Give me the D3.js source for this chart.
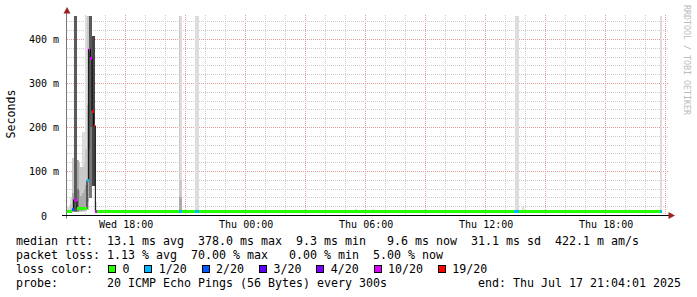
<!DOCTYPE html>
<html>
<head>
<meta charset="utf-8">
<script src="https://cdn.jsdelivr.net/npm/d3@7"></script>
<style>
html, body { margin: 0; padding: 0; background: #fff; }
svg { display: block; }
text { font-family: "DejaVu Sans Mono", monospace; white-space: pre; }
</style>
</head>
<body>
<div id="chart"></div>
<script>
// graph covers 30 hours of 5 minute steps ending here
var graphEnd = new Date(2025, 6, 17, 21, 4, 1);
var stepMinutes = 5;

// the rough start, one entry per step: step, median (ms), lost pings of 20
var burstSteps  = [0, 1, 2, 3, 4, 5, 6, 7, 8, 9, 10, 11, 12, 13, 14, 15, 16, 17];
var burstMedian = [9, 9, 10, 13, 36, 33, 16, 16, 15, 15, 15, 15, 80, 378, 357, 237, 204, 9];
var burstLoss   = [0, 0, 0, 2, 10, 10, 0, 0, 0, 0, 0, 0, 1, 10, 10, 19, 19, 10];

// the quiet rest: [first step, last step, median ms, lost pings]
var flatRuns = [
  [18, 66, 9.4, 0],
  [67, 68, 9.6, 1],
  [69, 76, 9.4, 0],
  [77, 78, 9.6, 1],
  [79, 267, 9.4, 0],
  [268, 270, 9.6, 1],
  [271, 355, 9.4, 0],
  [356, 356, 9.6, 1]
];

// smoke: [step, low ms, high ms, shade] (shade 0 = outermost pings)
var smoke = [
  [0, 6, 20, 0], [1, 6, 24, 0], [2, 7, 40, 0], [2, 8, 25, 1],
  [3, 8, 130, 1], [3, 9, 50, 2],
  [4, 8, 132, 3], [4, 10, 455, 4], [5, 8, 132, 3], [5, 10, 455, 4],
  [6, 9, 125, 2], [6, 11, 60, 3], [7, 9, 120, 1], [7, 11, 55, 2],
  [8, 9, 110, 1], [8, 11, 45, 2],
  [9, 9, 190, 0], [9, 10, 110, 1], [9, 11, 50, 2],
  [10, 9, 190, 0], [10, 10, 120, 1], [10, 12, 60, 2],
  [11, 9, 455, 0], [11, 10, 150, 1], [11, 12, 70, 2],
  [12, 12, 455, 1], [12, 30, 250, 2],
  [13, 40, 455, 3], [13, 150, 455, 4], [14, 40, 455, 3], [14, 200, 455, 4],
  [15, 68, 409, 5], [16, 68, 409, 5], [17, 8, 30, 0],
  [67, 9, 455, 1], [67, 9, 41, 2],
  [68, 9, 455, 0], [68, 9, 80, 1], [68, 9, 41, 2],
  [77, 9, 455, 0], [78, 9, 455, 0],
  [173, 9, 15, 0], [183, 9, 15, 0],
  [269, 9, 455, 0], [270, 9, 455, 0], [273, 9, 19, 0],
  [301, 9, 14, 0], [337, 9, 14, 0],
  [356, 9, 455, 0]
];
var smokeShades = ["#dddddd", "#c9c9c9", "#aaaaaa", "#7a7a7a", "#5a5a5a", "#454545"];

var lossLabels = ["0", "1/20", "2/20", "3/20", "4/20", "10/20", "19/20"];
var lossSteps  = [1, 2, 3, 4, 10, 19];
var lossColors = ["#26ff00", "#00b8ff", "#0059ff", "#5e00ff", "#7e00ff", "#dd00ff", "#ff0000"];

var yTicks = [0, 0.1, 0.2, 0.3, 0.4];
var yMax = 0.4545;

var legendLines = [
  "median rtt:  13.1 ms avg  378.0 ms max  9.3 ms min   9.6 ms now  31.1 ms sd  422.1 m am/s",
  "packet loss: 1.13 % avg  70.00 % max   0.00 % min  5.00 % now",
  "loss color:",
  "probe:       20 ICMP Echo Pings (56 Bytes) every 300s"
];
var endLabel = "end: Thu Jul 17 21:04:01 2025";

var W = 697, H = 297,
    plotLeft = 67, plotRight = 667, plotTop = 15.5, plotBottom = 215.5;

var svg = d3.select("#chart").append("svg")
    .attr("width", W)
    .attr("height", H);

svg.append("rect").attr("width", W).attr("height", H).attr("fill", "#fff");

var graphStart = d3.timeHour.offset(graphEnd, -30);

var x = d3.scaleTime().domain([graphStart, graphEnd]).range([plotLeft, plotRight]),
    y = d3.scaleLinear().domain([0, yMax]).range([plotBottom, plotTop]).clamp(true),
    lossColor = d3.scaleThreshold().domain(lossSteps).range(lossColors);

function sx(k) { return x(d3.timeMinute.offset(graphStart, k * stepMinutes)); }

// grid
var grid = svg.append("g").attr("shape-rendering", "crispEdges").attr("stroke-dasharray", "1,1");

var hours = d3.timeHour.range(d3.timeHour.ceil(graphStart), graphEnd);
grid.selectAll(".vx").data(hours)
  .enter().append("line")
    .attr("x1", function(d) { return Math.floor(x(d)) + 0.5; })
    .attr("x2", function(d) { return Math.floor(x(d)) + 0.5; })
    .attr("y1", plotTop - 0.5).attr("y2", plotBottom)
    .attr("stroke", function(d) { return d.getHours() % 3 === 0 ? "#e39a9a" : "#cccccc"; });

var yGrid = d3.range(0, yMax, 0.02);
grid.selectAll(".hy").data(yGrid)
  .enter().append("line")
    .attr("x1", plotLeft).attr("x2", plotRight + 1)
    .attr("y1", function(d) { return y(d); })
    .attr("y2", function(d) { return y(d); })
    .attr("stroke", function(d) { return Math.round(d * 100) % 10 === 0 ? "#e39a9a" : "#cccccc"; });

// smoke
svg.append("g").attr("shape-rendering", "crispEdges")
  .selectAll("rect").data(smoke)
  .enter().append("rect")
    .attr("x", function(d) { return sx(d[0]); })
    .attr("width", function(d) { return sx(d[0] + 1) - sx(d[0]); })
    .attr("y", function(d) { return y(d[2] / 1000); })
    .attr("height", function(d) { return y(d[1] / 1000) - y(d[2] / 1000); })
    .attr("fill", function(d) { return smokeShades[d[3]]; });

// median per step
var steps = [];
burstSteps.forEach(function(k, i) { steps.push({k: k, ms: burstMedian[i], loss: burstLoss[i]}); });
flatRuns.forEach(function(r) {
  for (var k = r[0]; k <= r[1]; k++) steps.push({k: k, ms: r[2], loss: r[3]});
});

var pts = steps.map(function(d) { return [sx(d.k), y(d.ms / 1000)]; });
var last = steps[steps.length - 1];
pts.push([sx(last.k + 1), y(last.ms / 1000)]);

svg.append("path")
    .attr("d", d3.line().curve(d3.curveStepAfter)(pts))
    .attr("fill", "none")
    .attr("stroke", "#000")
    .attr("stroke-width", 1);

svg.append("g").attr("shape-rendering", "crispEdges")
  .selectAll("rect").data(steps)
  .enter().append("rect")
    .attr("x", function(d) { return sx(d.k); })
    .attr("width", function(d) { return sx(d.k + 1) - sx(d.k); })
    .attr("y", function(d) { return y(d.ms / 1000) - 1.5; })
    .attr("height", 3)
    .attr("fill", function(d) { return lossColor(d.loss); });

// axes
svg.append("line")
    .attr("x1", plotLeft - 0.5).attr("x2", plotLeft - 0.5)
    .attr("y1", plotBottom + 3).attr("y2", 12)
    .attr("stroke", "#777");
svg.append("line")
    .attr("x1", plotLeft - 5).attr("x2", 669)
    .attr("y1", plotBottom).attr("y2", plotBottom)
    .attr("stroke", "#000");
svg.append("path").attr("d", "M63.5,13.5L70.5,13.5L67,7Z").attr("fill", "#9b2222");
svg.append("path").attr("d", "M668.5,212L668.5,219L675,215.5Z").attr("fill", "#9b2222");

var yAxis = svg.append("g")
    .attr("transform", "translate(" + plotLeft + ",0)")
    .call(d3.axisLeft(y).tickValues(yTicks).tickSize(0)
      .tickFormat(function(d) { return d === 0 ? "0" : Math.round(d * 1000) + " m"; }));
yAxis.select(".domain").remove();
yAxis.selectAll("text")
    .attr("x", function(d) { return d === 0 ? -20 : -8; })
    .attr("dy", "0.35em")
    .style("font-family", "DejaVu Sans Mono")
    .style("font-size", "10px")
    .attr("fill", "#000");

var xAxis = svg.append("g")
    .attr("transform", "translate(0," + plotBottom + ")")
    .call(d3.axisBottom(x).ticks(d3.timeHour.every(6)).tickSize(0)
      .tickFormat(d3.timeFormat("%a %H:%M")));
xAxis.select(".domain").remove();
xAxis.selectAll("text")
    .attr("y", 12.5)
    .attr("dy", 0)
    .style("font-family", "DejaVu Sans Mono")
    .style("font-size", "10px")
    .attr("fill", "#000");

svg.append("text")
    .attr("transform", "translate(15,114) rotate(-90)")
    .attr("text-anchor", "middle")
    .style("font-size", "11.6px")
    .text("Seconds");

svg.append("text")
    .attr("transform", "translate(684,5) rotate(90)")
    .style("font-size", "8.3px")
    .attr("fill", "#bbbbbb")
    .text("RRDTOOL / TOBI OETIKER");

// legend
var legend = svg.append("g").style("font-size", "11.63px");
legend.selectAll("text.line").data(legendLines)
  .enter().append("text")
    .attr("class", "line")
    .attr("x", 16)
    .attr("y", function(d, i) { return 245 + i * 14; })
    .text(function(d) { return d; });

legend.append("text")
    .attr("x", 681).attr("y", 287)
    .attr("text-anchor", "end")
    .text(endLabel);

var bx = 108.5;
lossLabels.forEach(function(label, i) {
  legend.append("rect")
      .attr("x", bx).attr("y", 265.5)
      .attr("width", 7).attr("height", 7)
      .attr("fill", lossColors[i])
      .attr("stroke", "#000")
      .attr("shape-rendering", "crispEdges");
  legend.append("text")
      .attr("x", bx + 14).attr("y", 273)
      .text(label);
  bx += 14 + label.length * 7 + 15.3;
});
</script>
</body>
</html>
